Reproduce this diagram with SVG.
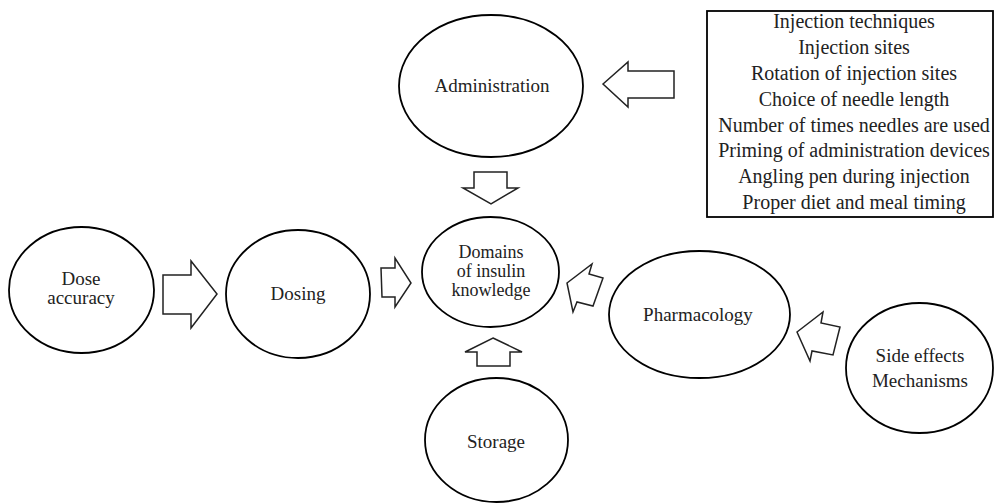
<svg xmlns="http://www.w3.org/2000/svg" width="994" height="503" viewBox="0 0 994 503" font-family="'Liberation Serif', 'DejaVu Serif', serif">
<style>
.node ellipse{fill:#fff;stroke:#000;stroke-width:1.8}
text{font-family:'Liberation Serif','DejaVu Serif',serif;font-size:19px;fill:#222;text-anchor:middle}
.box text{font-size:20px}
#domains text{font-size:18px}
.conn polygon{fill:#fff;stroke:#222;stroke-width:1.5;stroke-linejoin:miter}
</style>
<rect width="994" height="503" fill="#fff"/>
<g id="box" class="box">
<rect x="707" y="11" width="286" height="206" fill="#fff" stroke="#000" stroke-width="1.8"/>
<text x="854" y="28">Injection techniques</text>
<text x="854" y="54">Injection sites</text>
<text x="854" y="80">Rotation of injection sites</text>
<text x="854" y="106">Choice of needle length</text>
<text x="854" y="132">Number of times needles are used</text>
<text x="854" y="157">Priming of administration devices</text>
<text x="854" y="183">Angling pen during injection</text>
<text x="854" y="209">Proper diet and meal timing</text>
</g>
<g id="administration" class="node">
<ellipse cx="491" cy="86" rx="92" ry="71"/>
<text x="492" y="92">Administration</text>
</g>
<g id="domains" class="node">
<ellipse cx="490.5" cy="272" rx="68.5" ry="55"/>
<text x="491" y="258">Domains</text>
<text x="491" y="277">of insulin</text>
<text x="491" y="296">knowledge</text>
</g>
<g id="dose-accuracy" class="node">
<ellipse cx="81.5" cy="290" rx="72.5" ry="63"/>
<text x="81" y="285">Dose</text>
<text x="81" y="304">accuracy</text>
</g>
<g id="dosing" class="node">
<ellipse cx="298" cy="294" rx="72" ry="64"/>
<text x="298" y="300">Dosing</text>
</g>
<g id="pharmacology" class="node">
<ellipse cx="699.5" cy="314.5" rx="90.5" ry="63.5"/>
<text x="698" y="321">Pharmacology</text>
</g>
<g id="side-effects" class="node">
<ellipse cx="919.5" cy="368" rx="73.5" ry="65"/>
<text x="920" y="362">Side effects</text>
<text x="920" y="387">Mechanisms</text>
</g>
<g id="storage" class="node">
<ellipse cx="496.5" cy="440" rx="71.5" ry="62"/>
<text x="496" y="448">Storage</text>
</g>
<g id="connectors" class="conn">
<polygon points="603,84 628,62 628,71 674,71 674,98 628,98 628,107"/>
<polygon points="474,172 507,172 507,188 518,188 491,204 463,188 474,188"/>
<polygon points="163,275 191,275 191,261 217,294 191,328 191,314 163,314"/>
<polygon points="381,268 395,268 395,258 411,283 395,307 395,297 382,297"/>
<polygon points="493,338 522,352 510,352 510,366 477,366 477,352 465,352"/>
<polygon points="567,283 592,264 589,274 603,278 593,306 577,302 573,312"/>
<polygon points="797,332 823,312 821,323 840,327 833,355 812,351 810,361"/>
</g>
</svg>
